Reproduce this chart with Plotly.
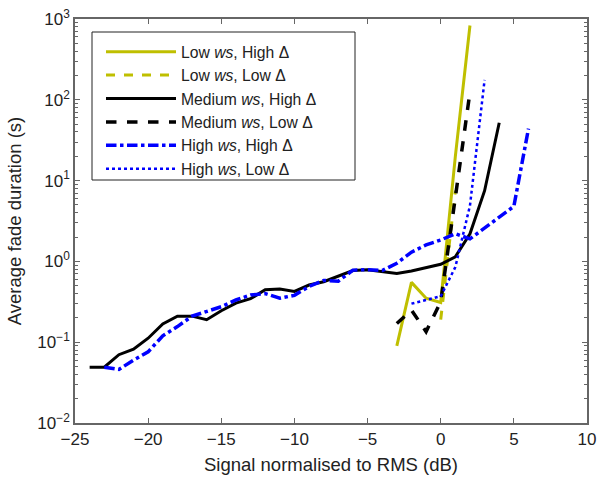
import plotly.graph_objects as go

# ---- data ----
x_low_high = [-3, -2, -1, 0, 1, 2]
y_low_high = [0.09, 0.55, 0.35, 0.31, 20, 830]

x_low_low = [0, 0.5, 1]
y_low_low = [0.19, 1.2, 7.5]

x_med_high = [-24, -23, -22, -21, -20, -19, -18, -17, -16, -15, -14, -13, -12, -11, -10,
              -9, -8, -7, -6, -5, -4, -3, -2, -1, 0, 1, 2, 3, 4]
y_med_high = [0.049, 0.049, 0.070, 0.082, 0.112, 0.168, 0.21, 0.21, 0.19, 0.245, 0.305,
              0.345, 0.445, 0.455, 0.425, 0.51, 0.56, 0.65, 0.77, 0.79, 0.75, 0.71, 0.76,
              0.83, 0.92, 1.14, 2.2, 7.5, 52]

x_med_low = [-3, -2, -1, 0, 1, 2]
y_med_low = [0.17, 0.25, 0.135, 0.317, 6.2, 125]

x_high_high = [-23, -22, -21, -20, -19, -18, -17, -16, -15, -14, -13, -12, -11, -10,
               -9, -8, -7, -6, -5, -4, -3, -2, -1, 0, 1, 2, 3, 4, 5, 6]
y_high_high = [0.049, 0.046, 0.06, 0.076, 0.12, 0.156, 0.21, 0.24, 0.275, 0.333, 0.384,
               0.40, 0.35, 0.38, 0.49, 0.58, 0.57, 0.78, 0.79, 0.77, 0.95, 1.3, 1.6,
               1.84, 2.2, 1.9, 2.6, 3.5, 4.8, 44]

x_high_low = [-2, -1, 0, 1, 2, 3]
y_high_low = [0.30, 0.33, 0.37, 0.85, 4.9, 176]

xticks = [-25, -20, -15, -10, -5, 0, 5, 10]
xtick_text = ["\u221225", "\u221220", "\u221215", "\u221210", "\u22125", "0", "5", "10"]
yticks = [0.01, 0.1, 1, 10, 100, 1000]
ytick_text = ["10<sup>\u22122</sup>", "10<sup>\u22121</sup>", "10<sup>0</sup>",
              "10<sup>1</sup>", "10<sup>2</sup>", "10<sup>3</sup>"]

YEL = "#BFBF00"
BLU = "#0000FF"
BLK = "#000000"
FONT = "Liberation Sans, Arial, sans-serif"

W, H = 598, 480
ML, MR, MT, MB = 75, 11, 19, 57
PW, PH = W - ML - MR, H - MT - MB

fig = go.Figure()
fig.add_trace(go.Scatter(x=x_low_high, y=y_low_high, mode="lines",
                         name="Low <i>ws</i>, High \u0394",
                         line=dict(color=YEL, width=3, dash="solid")))
fig.add_trace(go.Scatter(x=x_low_low, y=y_low_low, mode="lines",
                         name="Low <i>ws</i>, Low \u0394",
                         line=dict(color=YEL, width=3, dash="dash")))
fig.add_trace(go.Scatter(x=x_med_high, y=y_med_high, mode="lines",
                         name="Medium <i>ws</i>, High \u0394",
                         line=dict(color=BLK, width=3, dash="solid")))
fig.add_trace(go.Scatter(x=x_med_low, y=y_med_low, mode="lines",
                         name="Medium <i>ws</i>, Low \u0394",
                         line=dict(color=BLK, width=3.5, dash="dash")))
fig.add_trace(go.Scatter(x=x_high_high, y=y_high_high, mode="lines",
                         name="High <i>ws</i>, High \u0394",
                         line=dict(color=BLU, width=3.5, dash="dashdot")))
fig.add_trace(go.Scatter(x=x_high_low, y=y_high_low, mode="lines",
                         name="High <i>ws</i>, Low \u0394",
                         line=dict(color=BLU, width=2.5, dash="dot")))

axis_common = dict(showgrid=False, zeroline=False, showline=True, linecolor="#666666",
                   linewidth=1.5, mirror="allticks", ticks="inside", tickcolor="#666666",
                   automargin=False,
                   tickfont=dict(family=FONT, size=17, color="#222222"))

fig.update_xaxes(range=[-25, 10], tickvals=xticks, ticktext=xtick_text, ticklen=5,
                 title=dict(text="Signal normalised to RMS (dB)",
                            font=dict(family=FONT, size=18.5, color="#222222"), standoff=10),
                 **axis_common)
fig.update_yaxes(type="log", range=[-2, 3], tickvals=yticks, ticktext=ytick_text, ticklen=5,
                 minor=dict(ticks="inside", ticklen=3, dtick="D1", tickcolor="#666666"),
                 title=dict(text="Average fade duration (s)",
                            font=dict(family=FONT, size=18.5, color="#222222"), standoff=11),
                 **axis_common)

# legend frame (pixel box 92..355 x 32..180)
lx0, lx1, ly0, ly1 = 92, 355, 32, 180
fig.add_shape(type="rect", xref="paper", yref="paper", layer="above",
              x0=(lx0 - ML) / PW, x1=(lx1 - ML) / PW,
              y0=1 - (ly1 - MT) / PH, y1=1 - (ly0 - MT) / PH,
              line=dict(color="#222222", width=1), fillcolor="white")

fig.update_layout(
    width=W, height=H,
    margin=dict(l=ML, r=MR, t=MT, b=MB, autoexpand=False),
    paper_bgcolor="white", plot_bgcolor="white",
    font=dict(family=FONT, size=15, color="#222222"),
    legend=dict(x=(lx0 - ML + 9) / PW, y=1 - (ly0 - MT + 3) / PH,
                xanchor="left", yanchor="top",
                borderwidth=0, bgcolor="rgba(0,0,0,0)",
                font=dict(size=15.7, family=FONT, color="#222222"),
                tracegroupgap=0, itemwidth=70),
    showlegend=True,
)

fig.write_html("out.html")
